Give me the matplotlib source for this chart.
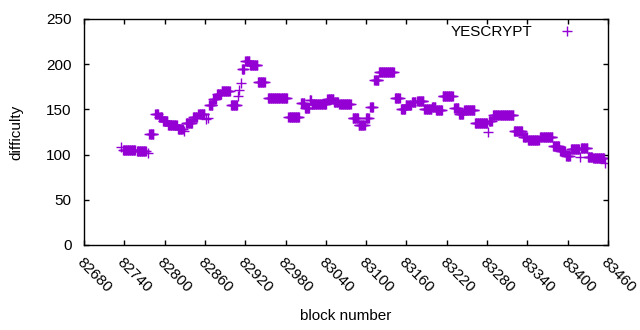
import numpy as np
import matplotlib
matplotlib.use("Agg")
import matplotlib.pyplot as plt

plt.rcParams['font.family'] = ['Liberation Sans', 'DejaVu Sans']

# Runs of constant difficulty: first block, last block, difficulty
run_start = [82735, 82738, 82759, 82775, 82777, 82786, 82792, 82798, 82805, 82820,
             82829, 82832, 82842, 82850, 82862, 82865, 82866, 82872, 82878, 82885,
             82899, 82909, 82911, 82914, 82915, 82920, 82927, 82939, 82954, 82984,
             83003, 83009, 83016, 83019, 83042, 83052, 83060, 83080, 83089, 83100,
             83106, 83112, 83119, 83143, 83152, 83159, 83164, 83168, 83176, 83186,
             83198, 83204, 83214, 83231, 83238, 83246, 83262, 83281, 83283, 83289,
             83320, 83334, 83341, 83359, 83378, 83389, 83398, 83405, 83418, 83420,
             83430, 83438, 83456]
run_end = [82735, 82756, 82772, 82775, 82783, 82790, 82796, 82804, 82818, 82827,
           82829, 82841, 82848, 82859, 82862, 82865, 82871, 82876, 82884, 82897,
           82908, 82909, 82911, 82914, 82918, 82926, 82938, 82949, 82982, 83000,
           83008, 83015, 83018, 83040, 83051, 83058, 83077, 83088, 83098, 83104,
           83110, 83118, 83141, 83150, 83158, 83162, 83167, 83173, 83185, 83197,
           83203, 83213, 83229, 83237, 83244, 83261, 83280, 83281, 83287, 83319,
           83332, 83339, 83357, 83377, 83387, 83396, 83403, 83417, 83418, 83429,
           83436, 83454, 83456]
run_value = [108, 105, 104, 102, 123, 145, 142, 137, 133, 128,
             126, 135, 142, 145, 139, 141, 155, 161, 167, 170,
             155, 165, 172, 179, 195, 203, 199, 180, 163, 142,
             157, 152, 160, 156, 161, 158, 156, 140, 133, 141,
             153, 182, 191, 163, 150, 155, 155, 158, 159, 150,
             153, 149, 165, 152, 145, 149, 135, 125, 137, 144,
             126, 119, 116, 120, 109, 104, 99, 106, 97, 107,
             97, 96, 91]

x_ticks = list(range(82680, 83461, 60))
y_ticks = [0, 50, 100, 150, 200, 250]

blocks = []
diffs = []
for s, e, v in zip(run_start, run_end, run_value):
    for b in range(s, e + 1):
        blocks.append(b)
        diffs.append(v)

fig = plt.figure(figsize=(6.4, 3.3), dpi=100)
ax = fig.add_axes([84/640, 1-245/330, (608-84)/640, (245-19)/330])

ax.plot(blocks, diffs, linestyle='none', marker='+', color='#9400D3',
        markersize=6.5, markeredgewidth=1.0, label='YESCRYPT')

ax.set_xlim(82680, 83460)
ax.set_ylim(0, 250)
ax.set_xticks(x_ticks)
ax.set_yticks(y_ticks)
ax.set_xticklabels([str(t) for t in x_ticks], rotation=-45, ha='left', va='top',
                   rotation_mode='anchor')
ax.tick_params(direction='in', length=3.5, width=1, top=True, right=True,
               labelsize=11, colors='black')
ax.tick_params(axis='y', pad=9)
ax.tick_params(axis='x', pad=7)
for sp in ax.spines.values():
    sp.set_linewidth(1)
ax.set_xlabel('block number', fontsize=11)
ax.set_ylabel('difficulty', fontsize=11)
ax.xaxis.set_label_coords(0.5, -(309 - 245) / 226, transform=ax.transAxes)
ax.yaxis.set_label_coords(-(84 - 23) / 524, 0.5, transform=ax.transAxes)

leg = ax.legend(loc='upper right', bbox_to_anchor=(0.9626, 1.0), frameon=False,
                fontsize=11, markerfirst=False, handlelength=2.0,
                borderaxespad=0.0, handletextpad=1.29)

fig.savefig('out.png', dpi=100)
